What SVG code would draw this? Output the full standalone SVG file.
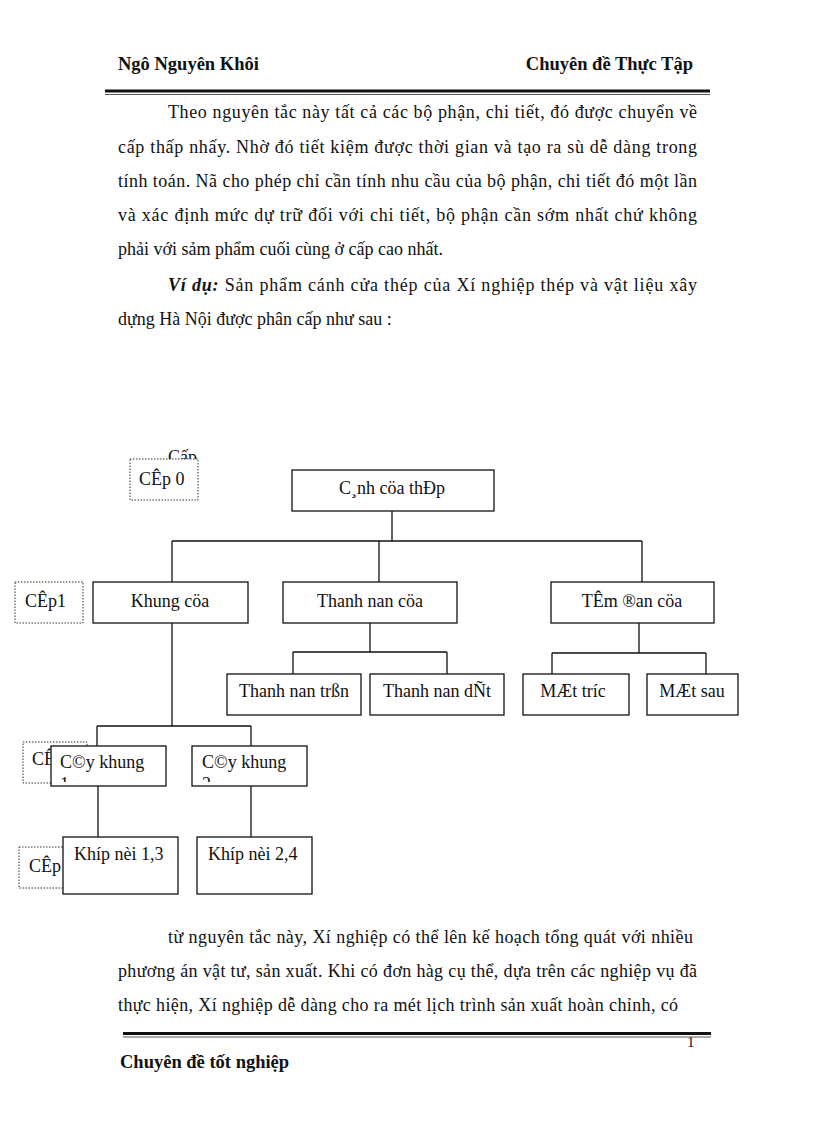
<svg xmlns="http://www.w3.org/2000/svg" width="816" height="1123" viewBox="0 0 816 1123">
<style>
text{font-family:"Liberation Serif","Times New Roman",serif;fill:#111}
.p{font-size:18px}
.h{font-size:18.5px;font-weight:bold}
.n{font-size:18px}
.box{fill:#fff;stroke:#111;stroke-width:1.3}
.lvl{fill:#fff;stroke:#333;stroke-width:1;stroke-dasharray:1.5 1.5}
.con{fill:none;stroke:#111;stroke-width:1.3}
</style>
<defs>
<clipPath id="cy1"><rect x="51" y="746" width="115" height="36"/></clipPath>
<clipPath id="cy2"><rect x="192" y="746" width="115" height="36"/></clipPath>
<clipPath id="cap0"><rect x="160" y="430" width="50" height="29"/></clipPath>
<clipPath id="cl2"><rect x="20" y="742" width="30.5" height="41"/></clipPath>
<clipPath id="cl3"><rect x="15" y="847" width="47.5" height="41"/></clipPath>
</defs>
<rect width="816" height="1123" fill="#fff"/>
<g id="header">
<text class="h" x="118" y="70">Ngô Nguyên Khôi</text>
<text class="h" x="693" y="70" text-anchor="end">Chuyên đề Thực Tập</text>
<rect x="105" y="89.5" width="605" height="3" fill="#111"/>
<rect x="105" y="94" width="605" height="1" fill="#555"/>
</g>
<g id="paragraph1" class="p">
<text x="168" y="118" textLength="529" lengthAdjust="spacing">Theo nguyên tắc này tất cả các bộ phận, chi tiết, đó được chuyển về</text>
<text x="118" y="153" textLength="579" lengthAdjust="spacing">cấp thấp nhấy. Nhờ đó tiết kiệm được thời gian và tạo ra sù dễ dàng trong</text>
<text x="118" y="187" textLength="579" lengthAdjust="spacing">tính toán. Nã cho phép chỉ cần tính nhu cầu của bộ phận, chi tiết đó một lần</text>
<text x="118" y="221" textLength="579" lengthAdjust="spacing">và xác định mức dự trữ đối với chi tiết, bộ phận cần sớm nhất chứ không</text>
<text x="118" y="255">phải với sảm phẩm cuối cùng ở cấp cao nhất.</text>
<text x="168" y="291" textLength="529" lengthAdjust="spacing"><tspan font-weight="bold" font-style="italic">Ví dụ:</tspan> Sản phẩm cánh cửa thép của Xí nghiệp thép và vật liệu xây</text>
<text x="118" y="325">dựng Hà Nội được phân cấp như sau :</text>
</g>
<g id="connectors">
<path class="con" d="M392 511V541M172 541H642M172 541V582M379 541V582M642 541V582"/>
<path class="con" d="M370 623V652M293 652H447M293 652V674M447 652V674"/>
<path class="con" d="M639 623V653M552 653H706M552 653V674M706 653V674"/>
<path class="con" d="M172 623V726M97 726H251M97 726V746M251 726V746"/>
<path class="con" d="M98 786V837M251 786V837"/>
</g>
<g id="level0">
<text class="n" x="168" y="463" clip-path="url(#cap0)">Cấp</text>
<rect class="lvl" x="130" y="459" width="68" height="41"/>
<text class="n" x="139" y="485">CÊp 0</text>
</g>
<g id="root">
<rect class="box" x="292" y="470" width="202" height="41"/>
<text class="n" x="392" y="494" text-anchor="middle">C¸nh cöa thÐp</text>
</g>
<g id="level1">
<rect class="lvl" x="15" y="582" width="68" height="41"/>
<text class="n" x="25" y="607">CÊp1</text>
</g>
<g id="khung">
<rect class="box" x="93" y="582" width="155" height="41"/>
<text class="n" x="170" y="607" text-anchor="middle">Khung cöa</text>
</g>
<g id="thanhnan">
<rect class="box" x="283" y="582" width="174" height="41"/>
<text class="n" x="370" y="607" text-anchor="middle">Thanh nan cöa</text>
</g>
<g id="temdan">
<rect class="box" x="551" y="582" width="163" height="41"/>
<text class="n" x="632" y="607" text-anchor="middle">TÊm ®an cöa</text>
</g>
<g id="thanhnantron">
<rect class="box" x="227" y="674" width="134" height="41"/>
<text class="n" x="294" y="697" text-anchor="middle">Thanh nan trßn</text>
</g>
<g id="thanhnandet">
<rect class="box" x="370" y="674" width="134" height="41"/>
<text class="n" x="437" y="697" text-anchor="middle">Thanh nan dÑt</text>
</g>
<g id="mattruoc">
<rect class="box" x="523" y="674" width="106" height="41"/>
<text class="n" x="573" y="697" text-anchor="middle">MÆt tríc</text>
</g>
<g id="matsau">
<rect class="box" x="647" y="674" width="91" height="41"/>
<text class="n" x="692" y="697" text-anchor="middle">MÆt sau</text>
</g>
<g id="level2">
<rect class="lvl" x="23" y="742" width="64" height="41"/>
<text class="n" x="32" y="765" clip-path="url(#cl2)">CÊp 2</text>
</g>
<g id="cay1">
<rect class="box" x="51" y="746" width="115" height="40"/>
<text class="n" x="60" y="768">C©y khung</text>
<text class="n" x="60" y="790" clip-path="url(#cy1)">1</text>
</g>
<g id="cay2">
<rect class="box" x="192" y="746" width="115" height="40"/>
<text class="n" x="202" y="768">C©y khung</text>
<text class="n" x="202" y="790" clip-path="url(#cy2)">2</text>
</g>
<g id="level3">
<rect class="lvl" x="19" y="847" width="60" height="41"/>
<text class="n" x="29" y="872" clip-path="url(#cl3)">CÊp 3</text>
</g>
<g id="khop13">
<rect class="box" x="63" y="837" width="115" height="57"/>
<text class="n" x="74" y="860">Khíp nèi 1,3</text>
</g>
<g id="khop24">
<rect class="box" x="197" y="837" width="115" height="57"/>
<text class="n" x="208" y="860">Khíp nèi 2,4</text>
</g>
<g id="paragraph2" class="p">
<text x="168" y="943" textLength="525" lengthAdjust="spacing">từ nguyên tắc này, Xí nghiệp  có thể lên kế hoạch tổng quát với nhiều</text>
<text x="118" y="977" textLength="579" lengthAdjust="spacing">phương án vật tư, sản xuất. Khi có đơn hàg cụ thể, dựa trên các nghiệp vụ đã</text>
<text x="118" y="1011" textLength="560" lengthAdjust="spacing">thực hiện, Xí nghiệp  dễ dàng cho ra mét lịch trình sản xuất hoàn chỉnh, có</text>
</g>
<g id="footer">
<text x="687" y="1047" style="font-size:15px">1</text>
<rect x="123" y="1032" width="588" height="3" fill="#111"/>
<rect x="123" y="1036.5" width="588" height="1" fill="#555"/>
<text class="h" x="120" y="1068">Chuyên đề tốt nghiệp</text>
</g>
</svg>
